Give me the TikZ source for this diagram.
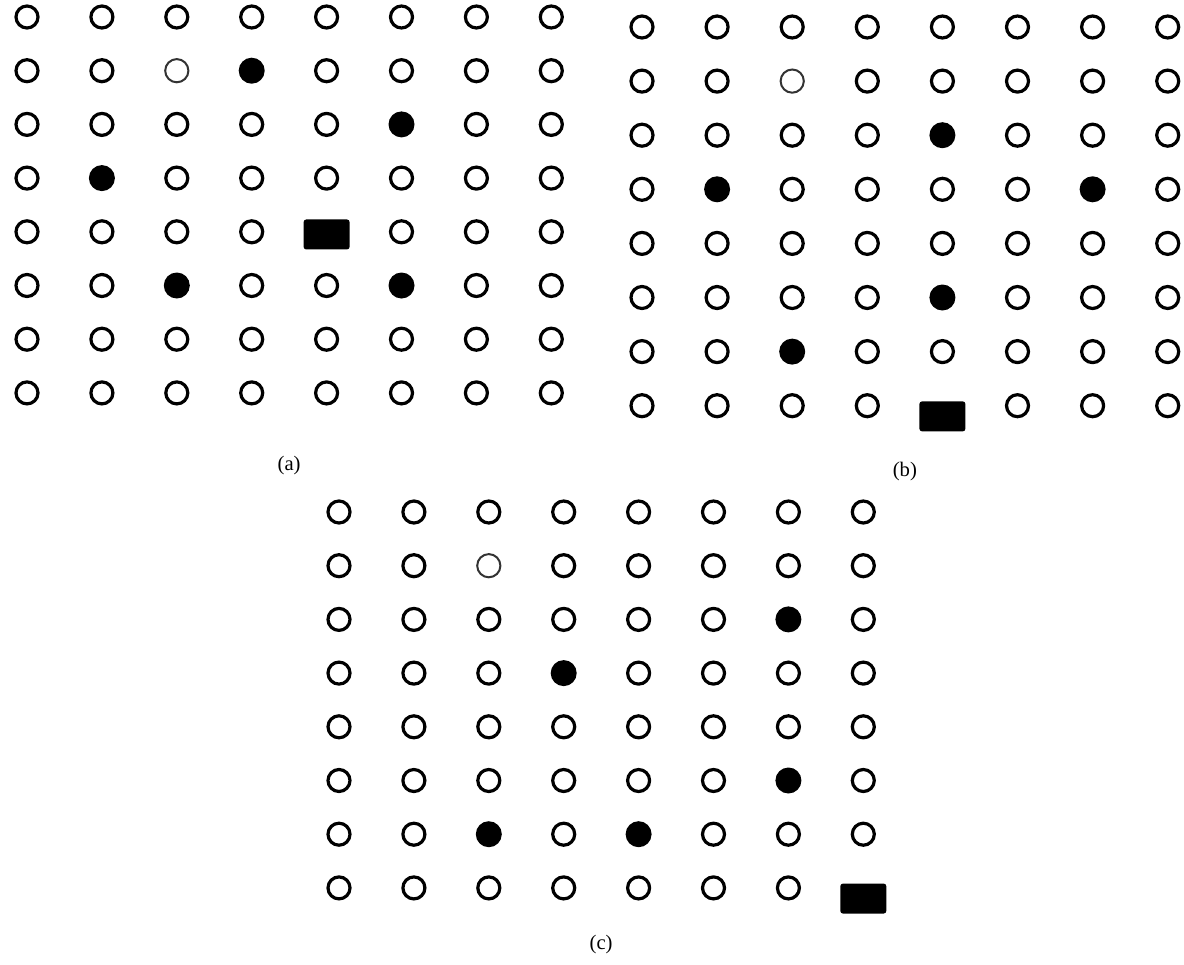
\documentclass[tikz,border=0pt]{standalone}
\usepackage{fontspec}
\setmainfont{Liberation Serif}
\usepackage{tikz}
\usetikzlibrary{calc,positioning}
\tikzset{
  cell o/.style={circle,draw=black,line width=2.4pt,minimum size=16.5pt,inner sep=0pt},
  cell w/.style={circle,draw=black!80,line width=1.5pt,minimum size=17.4pt,inner sep=0pt},
  cell h/.style={circle,fill=black,minimum size=19.5pt,inner sep=0pt},
  sinkbox/.style={rectangle,fill=black,rounded corners=2pt,minimum width=34.5pt,
    minimum height=22.5pt,inner sep=0pt},
  cell s/.style={sinkbox,yshift=-2pt},
  cell l/.style={sinkbox,yshift=-8pt},
  tag/.style={font=\fontsize{15.5}{18}\selectfont,inner sep=0pt},
}
% one 8x8 field: name, origin x, origin y, step x, step y, rows
\newcommand\lattice[6]{%
  \foreach \cells [count=\r] in {#6} {
    \foreach \k [count=\c] in \cells {
      \node[cell \k] (#1-\r-\c) at ({#2+(\c-1)*#4},{#3+(\r-1)*#5}) {};
    }
  }
}
\begin{document}
\begin{tikzpicture}[x=0.75pt,y=-0.75pt]
\useasboundingbox (0,0) rectangle (1184,964);

% (a)
\lattice{a}{27}{17}{74.9}{53.7}{%
  {o,o,o,o,o,o,o,o},{o,o,w,h,o,o,o,o},{o,o,o,o,o,h,o,o},{o,h,o,o,o,o,o,o},
  {o,o,o,o,s,o,o,o},{o,o,h,o,o,h,o,o},{o,o,o,o,o,o,o,o},{o,o,o,o,o,o,o,o}}
% (b)
\lattice{b}{642}{27}{75.1}{54.1}{%
  {o,o,o,o,o,o,o,o},{o,o,w,o,o,o,o,o},{o,o,o,o,h,o,o,o},{o,h,o,o,o,o,h,o},
  {o,o,o,o,o,o,o,o},{o,o,o,o,h,o,o,o},{o,o,h,o,o,o,o,o},{o,o,o,o,l,o,o,o}}
% (c)
\lattice{c}{339}{512}{74.9}{53.7}{%
  {o,o,o,o,o,o,o,o},{o,o,w,o,o,o,o,o},{o,o,o,o,o,o,h,o},{o,o,o,h,o,o,o,o},
  {o,o,o,o,o,o,o,o},{o,o,o,o,o,o,h,o},{o,o,h,o,h,o,o,o},{o,o,o,o,o,o,o,l}}

\node[tag] (la) at ($(a-8-4)!.5!(a-8-5)+(0,73)$) {(a)};
\node[tag] (lb) at ($(b-8-4)!.5!(b-8-5)+(0,60)$) {(b)};
\node[tag] (lc) at ($(c-8-4)!.5!(c-8-5)+(0,57)$) {(c)};
\end{tikzpicture}
\end{document}
